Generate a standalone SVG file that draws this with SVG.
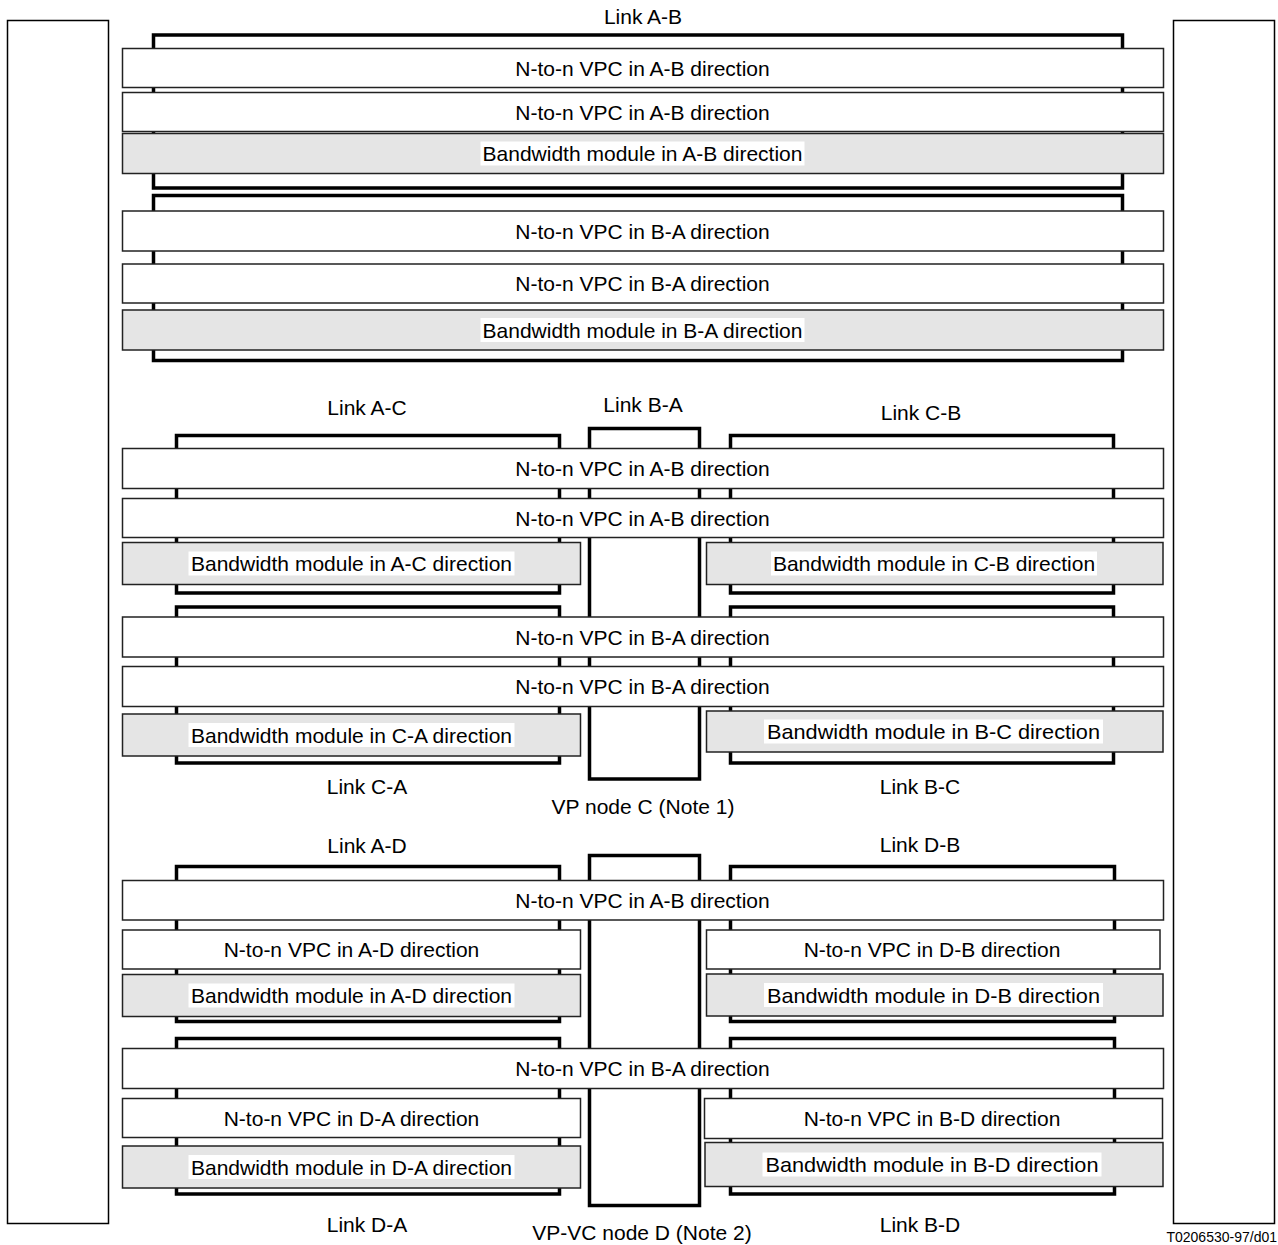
<svg xmlns="http://www.w3.org/2000/svg" width="1278" height="1245" viewBox="0 0 1278 1245">
<style>
text{font-family:"Liberation Sans",Arial,sans-serif;font-size:21px;fill:#000;text-anchor:middle}
.node{fill:#fff;stroke:#000;stroke-width:1.5}
.link{fill:none;stroke:#000;stroke-width:3.5}
.vp{fill:#fff;stroke:#000;stroke-width:3.5}
.w{fill:#fff;stroke:#222;stroke-width:1.5}
.g{fill:#e5e5e5;stroke:#222;stroke-width:1.5}
.bg{fill:#fff;stroke:none}
.ref{font-size:14px;text-anchor:end}
</style>
<rect x="0" y="0" width="1278" height="1245" fill="#fff"/>
<g id="node-left"><rect class="node" x="7.5" y="20.5" width="101" height="1203"/></g>
<g id="node-right"><rect class="node" x="1173.5" y="20.5" width="101" height="1203"/></g>

<g id="links">
<g id="link-AB-top"><rect class="link" x="153.5" y="35" width="969" height="153"/></g>
<g id="link-BA-top"><rect class="link" x="153.5" y="195.5" width="969" height="165"/></g>
<g id="link-AC"><rect class="link" x="176.5" y="435.5" width="383" height="157.5"/></g>
<g id="link-CA"><rect class="link" x="176.5" y="607" width="383" height="156"/></g>
<g id="link-CB"><rect class="link" x="730.5" y="435.5" width="383" height="157.5"/></g>
<g id="link-BC"><rect class="link" x="730.5" y="607" width="383" height="156"/></g>
<g id="link-AD"><rect class="link" x="176.5" y="866.5" width="383" height="155"/></g>
<g id="link-DA"><rect class="link" x="176.5" y="1038.5" width="383" height="155.5"/></g>
<g id="link-DB"><rect class="link" x="730.5" y="866.5" width="384" height="155"/></g>
<g id="link-BD"><rect class="link" x="730.5" y="1038.5" width="384" height="155.5"/></g>
</g>
<g id="node-C"><rect class="vp" x="589.5" y="428.5" width="110" height="350.5"/></g>
<g id="node-D"><rect class="vp" x="589.5" y="855.5" width="110" height="350"/></g>

<g id="labels">
<text x="643" y="24">Link A-B</text>
<text x="367" y="415">Link A-C</text>
<text x="643" y="412">Link B-A</text>
<text x="921" y="420">Link C-B</text>
<text x="367" y="794">Link C-A</text>
<text x="920" y="794">Link B-C</text>
<text x="643" y="814">VP node C (Note 1)</text>
<text x="367" y="853">Link A-D</text>
<text x="920" y="852">Link D-B</text>
<text x="367" y="1232">Link D-A</text>
<text x="920" y="1232">Link B-D</text>
<text x="642" y="1240">VP-VC node D (Note 2)</text>
<text class="ref" x="1277" y="1242">T0206530-97/d01</text>
</g>

<!-- top section -->
<g id="box-top-1"><rect class="w" x="122.5" y="48.5" width="1041" height="39"/><text x="642.5" y="75.5">N-to-n VPC in A-B direction</text></g>
<g id="box-top-2"><rect class="w" x="122.5" y="92.5" width="1041" height="39"/><text x="642.5" y="119.5">N-to-n VPC in A-B direction</text></g>
<g id="box-top-3"><rect class="g" x="122.5" y="133.5" width="1041" height="40"/><rect class="bg" x="480.5" y="141.5" width="324" height="24"/><text x="642.5" y="161">Bandwidth module in A-B direction</text></g>
<g id="box-top-4"><rect class="w" x="122.5" y="211" width="1041" height="40"/><text x="642.5" y="238.5">N-to-n VPC in B-A direction</text></g>
<g id="box-top-5"><rect class="w" x="122.5" y="264" width="1041" height="39"/><text x="642.5" y="291">N-to-n VPC in B-A direction</text></g>
<g id="box-top-6"><rect class="g" x="122.5" y="310" width="1041" height="40"/><rect class="bg" x="480.5" y="318" width="324" height="24"/><text x="642.5" y="337.5">Bandwidth module in B-A direction</text></g>

<!-- middle section -->
<g id="box-mid-1"><rect class="w" x="122.5" y="448.5" width="1041" height="40"/><text x="642.5" y="476">N-to-n VPC in A-B direction</text></g>
<g id="box-mid-2"><rect class="w" x="122.5" y="498.5" width="1041" height="39"/><text x="642.5" y="525.5">N-to-n VPC in A-B direction</text></g>
<g id="box-mid-3"><rect class="g" x="122.5" y="542.5" width="458" height="42"/><rect class="bg" x="188.5" y="551.5" width="326" height="24"/><text x="351.5" y="571">Bandwidth module in A-C direction</text></g>
<g id="box-mid-4"><rect class="g" x="706.5" y="542.5" width="456.5" height="42"/><rect class="bg" x="771" y="551.5" width="326" height="24"/><text x="934" y="571">Bandwidth module in C-B direction</text></g>
<g id="box-mid-5"><rect class="w" x="122.5" y="617" width="1041" height="40"/><text x="642.5" y="644.5">N-to-n VPC in B-A direction</text></g>
<g id="box-mid-6"><rect class="w" x="122.5" y="666.5" width="1041" height="40"/><text x="642.5" y="694">N-to-n VPC in B-A direction</text></g>
<g id="box-mid-7"><rect class="g" x="122.5" y="714" width="458" height="42"/><rect class="bg" x="188.5" y="723" width="326" height="24"/><text x="351.5" y="742.5">Bandwidth module in C-A direction</text></g>
<g id="box-mid-8"><rect class="g" x="706.5" y="711" width="456.5" height="41"/><rect class="bg" x="764" y="719.5" width="339" height="24"/><text x="933.5" y="739" textLength="333" lengthAdjust="spacingAndGlyphs">Bandwidth module in B-C direction</text></g>

<!-- lower section -->
<g id="box-low-1"><rect class="w" x="122.5" y="880.5" width="1041" height="39.5"/><text x="642.5" y="907.5">N-to-n VPC in A-B direction</text></g>
<g id="box-low-2"><rect class="w" x="122.5" y="930" width="458" height="39"/><text x="351.5" y="957">N-to-n VPC in A-D direction</text></g>
<g id="box-low-3"><rect class="w" x="706.5" y="930" width="453.5" height="39"/><text x="932" y="957">N-to-n VPC in D-B direction</text></g>
<g id="box-low-4"><rect class="g" x="122.5" y="974.5" width="458" height="42"/><rect class="bg" x="188.5" y="983.5" width="326" height="24"/><text x="351.5" y="1003">Bandwidth module in A-D direction</text></g>
<g id="box-low-5"><rect class="g" x="706.5" y="974" width="456.5" height="42"/><rect class="bg" x="764" y="983" width="339" height="24"/><text x="933.5" y="1002.5" textLength="333" lengthAdjust="spacingAndGlyphs">Bandwidth module in D-B direction</text></g>
<g id="box-low-6"><rect class="w" x="122.5" y="1048.5" width="1041" height="40"/><text x="642.5" y="1076">N-to-n VPC in B-A direction</text></g>
<g id="box-low-7"><rect class="w" x="122.5" y="1098.5" width="458" height="39"/><text x="351.5" y="1125.5">N-to-n VPC in D-A direction</text></g>
<g id="box-low-8"><rect class="w" x="704.5" y="1098.5" width="458" height="40"/><text x="932" y="1126">N-to-n VPC in B-D direction</text></g>
<g id="box-low-9"><rect class="g" x="122.5" y="1146" width="458" height="42"/><rect class="bg" x="188.5" y="1155" width="326" height="24"/><text x="351.5" y="1174.5">Bandwidth module in D-A direction</text></g>
<g id="box-low-10"><rect class="g" x="705" y="1142.5" width="458" height="44"/><rect class="bg" x="762.5" y="1152.5" width="339" height="24"/><text x="932" y="1172" textLength="333" lengthAdjust="spacingAndGlyphs">Bandwidth module in B-D direction</text></g>
</svg>
